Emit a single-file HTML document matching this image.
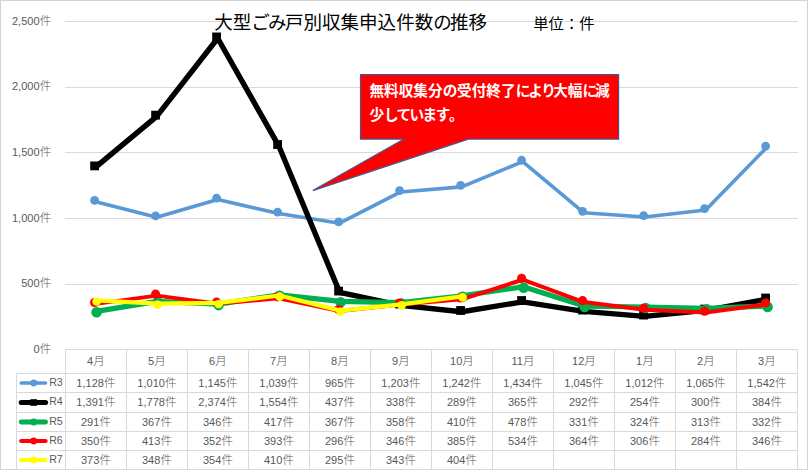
<!DOCTYPE html>
<html lang="ja"><head><meta charset="utf-8"><title>大型ごみ戸別収集申込件数の推移</title>
<style>html,body{margin:0;padding:0;background:#fff}svg{display:block}text{font-family:'Liberation Sans','Noto Sans CJK JP',sans-serif}.n{font-size:11px;letter-spacing:0.05px}.k{font-size:11.5px;letter-spacing:0;font-weight:300}.lb{fill:#595959}</style></head><body>
<svg width="808" height="474" viewBox="0 0 808 474">
<rect x="0" y="0" width="808" height="474" fill="#fff"/>
<rect x="0.5" y="0.5" width="807" height="469" fill="none" stroke="#d3d3d3" stroke-width="1"/>
<line x1="65" x2="798" y1="284.50" y2="284.50" stroke="#d9d9d9" stroke-width="1"/>
<line x1="65" x2="798" y1="218.50" y2="218.50" stroke="#d9d9d9" stroke-width="1"/>
<line x1="65" x2="798" y1="152.50" y2="152.50" stroke="#d9d9d9" stroke-width="1"/>
<line x1="65" x2="798" y1="87.50" y2="87.50" stroke="#d9d9d9" stroke-width="1"/>
<line x1="65" x2="798" y1="21.50" y2="21.50" stroke="#d9d9d9" stroke-width="1"/>
<g stroke="#d9d9d9" stroke-width="1" fill="none">
<line x1="65.50" x2="797.50" y1="349.50" y2="349.50"/>
<line x1="16.50" x2="797.50" y1="373.50" y2="373.50"/>
<line x1="16.50" x2="797.50" y1="392.50" y2="392.50"/>
<line x1="16.50" x2="797.50" y1="412.50" y2="412.50"/>
<line x1="16.50" x2="797.50" y1="431.50" y2="431.50"/>
<line x1="16.50" x2="797.50" y1="450.50" y2="450.50"/>
<line x1="16.50" x2="797.50" y1="469.50" y2="469.50"/>
<line x1="16.50" x2="16.50" y1="373.50" y2="469.50"/>
<line x1="65.50" x2="65.50" y1="349.50" y2="469.50"/>
<line x1="126.50" x2="126.50" y1="349.50" y2="469.50"/>
<line x1="187.50" x2="187.50" y1="349.50" y2="469.50"/>
<line x1="248.50" x2="248.50" y1="349.50" y2="469.50"/>
<line x1="309.50" x2="309.50" y1="349.50" y2="469.50"/>
<line x1="370.50" x2="370.50" y1="349.50" y2="469.50"/>
<line x1="431.50" x2="431.50" y1="349.50" y2="469.50"/>
<line x1="492.50" x2="492.50" y1="349.50" y2="469.50"/>
<line x1="553.50" x2="553.50" y1="349.50" y2="469.50"/>
<line x1="614.50" x2="614.50" y1="349.50" y2="469.50"/>
<line x1="675.50" x2="675.50" y1="349.50" y2="469.50"/>
<line x1="736.50" x2="736.50" y1="349.50" y2="469.50"/>
<line x1="797.50" x2="797.50" y1="349.50" y2="469.50"/>
</g>
<text class="lb" x="51.2" y="352.80" text-anchor="end"><tspan class="n">0</tspan><tspan class="k">件</tspan></text>
<text class="lb" x="51.2" y="287.20" text-anchor="end"><tspan class="n">500</tspan><tspan class="k">件</tspan></text>
<text class="lb" x="51.2" y="221.60" text-anchor="end"><tspan class="n">1,000</tspan><tspan class="k">件</tspan></text>
<text class="lb" x="51.2" y="156.00" text-anchor="end"><tspan class="n">1,500</tspan><tspan class="k">件</tspan></text>
<text class="lb" x="51.2" y="90.40" text-anchor="end"><tspan class="n">2,000</tspan><tspan class="k">件</tspan></text>
<text class="lb" x="51.2" y="24.80" text-anchor="end"><tspan class="n">2,500</tspan><tspan class="k">件</tspan></text>
<text class="lb" x="95.90" y="364.70" text-anchor="middle"><tspan class="n">4</tspan><tspan class="k">月</tspan></text>
<text class="lb" x="156.90" y="364.70" text-anchor="middle"><tspan class="n">5</tspan><tspan class="k">月</tspan></text>
<text class="lb" x="217.90" y="364.70" text-anchor="middle"><tspan class="n">6</tspan><tspan class="k">月</tspan></text>
<text class="lb" x="278.90" y="364.70" text-anchor="middle"><tspan class="n">7</tspan><tspan class="k">月</tspan></text>
<text class="lb" x="339.90" y="364.70" text-anchor="middle"><tspan class="n">8</tspan><tspan class="k">月</tspan></text>
<text class="lb" x="400.90" y="364.70" text-anchor="middle"><tspan class="n">9</tspan><tspan class="k">月</tspan></text>
<text class="lb" x="461.90" y="364.70" text-anchor="middle"><tspan class="n">10</tspan><tspan class="k">月</tspan></text>
<text class="lb" x="522.90" y="364.70" text-anchor="middle"><tspan class="n">11</tspan><tspan class="k">月</tspan></text>
<text class="lb" x="583.90" y="364.70" text-anchor="middle"><tspan class="n">12</tspan><tspan class="k">月</tspan></text>
<text class="lb" x="644.90" y="364.70" text-anchor="middle"><tspan class="n">1</tspan><tspan class="k">月</tspan></text>
<text class="lb" x="705.90" y="364.70" text-anchor="middle"><tspan class="n">2</tspan><tspan class="k">月</tspan></text>
<text class="lb" x="766.90" y="364.70" text-anchor="middle"><tspan class="n">3</tspan><tspan class="k">月</tspan></text>
<text class="lb" x="95.90" y="386.90" text-anchor="middle"><tspan class="n">1,128</tspan><tspan class="k">件</tspan></text>
<text class="lb" x="156.90" y="386.90" text-anchor="middle"><tspan class="n">1,010</tspan><tspan class="k">件</tspan></text>
<text class="lb" x="217.90" y="386.90" text-anchor="middle"><tspan class="n">1,145</tspan><tspan class="k">件</tspan></text>
<text class="lb" x="278.90" y="386.90" text-anchor="middle"><tspan class="n">1,039</tspan><tspan class="k">件</tspan></text>
<text class="lb" x="339.90" y="386.90" text-anchor="middle"><tspan class="n">965</tspan><tspan class="k">件</tspan></text>
<text class="lb" x="400.90" y="386.90" text-anchor="middle"><tspan class="n">1,203</tspan><tspan class="k">件</tspan></text>
<text class="lb" x="461.90" y="386.90" text-anchor="middle"><tspan class="n">1,242</tspan><tspan class="k">件</tspan></text>
<text class="lb" x="522.90" y="386.90" text-anchor="middle"><tspan class="n">1,434</tspan><tspan class="k">件</tspan></text>
<text class="lb" x="583.90" y="386.90" text-anchor="middle"><tspan class="n">1,045</tspan><tspan class="k">件</tspan></text>
<text class="lb" x="644.90" y="386.90" text-anchor="middle"><tspan class="n">1,012</tspan><tspan class="k">件</tspan></text>
<text class="lb" x="705.90" y="386.90" text-anchor="middle"><tspan class="n">1,065</tspan><tspan class="k">件</tspan></text>
<text class="lb" x="766.90" y="386.90" text-anchor="middle"><tspan class="n">1,542</tspan><tspan class="k">件</tspan></text>
<line x1="21.2" x2="45.6" y1="383.00" y2="383.00" stroke="#5999d5" stroke-width="3.4" stroke-linecap="round"/>
<circle cx="33.7" cy="383.00" r="3.4" fill="#5999d5"/>
<text class="lb" x="49.3" y="385.70"><tspan class="n" style="font-size:10.6px;letter-spacing:-0.3px">R3</tspan></text>
<text class="lb" x="95.90" y="406.40" text-anchor="middle"><tspan class="n">1,391</tspan><tspan class="k">件</tspan></text>
<text class="lb" x="156.90" y="406.40" text-anchor="middle"><tspan class="n">1,778</tspan><tspan class="k">件</tspan></text>
<text class="lb" x="217.90" y="406.40" text-anchor="middle"><tspan class="n">2,374</tspan><tspan class="k">件</tspan></text>
<text class="lb" x="278.90" y="406.40" text-anchor="middle"><tspan class="n">1,554</tspan><tspan class="k">件</tspan></text>
<text class="lb" x="339.90" y="406.40" text-anchor="middle"><tspan class="n">437</tspan><tspan class="k">件</tspan></text>
<text class="lb" x="400.90" y="406.40" text-anchor="middle"><tspan class="n">338</tspan><tspan class="k">件</tspan></text>
<text class="lb" x="461.90" y="406.40" text-anchor="middle"><tspan class="n">289</tspan><tspan class="k">件</tspan></text>
<text class="lb" x="522.90" y="406.40" text-anchor="middle"><tspan class="n">365</tspan><tspan class="k">件</tspan></text>
<text class="lb" x="583.90" y="406.40" text-anchor="middle"><tspan class="n">292</tspan><tspan class="k">件</tspan></text>
<text class="lb" x="644.90" y="406.40" text-anchor="middle"><tspan class="n">254</tspan><tspan class="k">件</tspan></text>
<text class="lb" x="705.90" y="406.40" text-anchor="middle"><tspan class="n">300</tspan><tspan class="k">件</tspan></text>
<text class="lb" x="766.90" y="406.40" text-anchor="middle"><tspan class="n">384</tspan><tspan class="k">件</tspan></text>
<line x1="21.2" x2="45.6" y1="402.50" y2="402.50" stroke="#000000" stroke-width="5.0" stroke-linecap="round"/>
<rect x="30.4" y="399.20" width="6.6" height="6.6" fill="#000000"/>
<text class="lb" x="49.3" y="405.20"><tspan class="n" style="font-size:10.6px;letter-spacing:-0.3px">R4</tspan></text>
<text class="lb" x="95.90" y="425.90" text-anchor="middle"><tspan class="n">291</tspan><tspan class="k">件</tspan></text>
<text class="lb" x="156.90" y="425.90" text-anchor="middle"><tspan class="n">367</tspan><tspan class="k">件</tspan></text>
<text class="lb" x="217.90" y="425.90" text-anchor="middle"><tspan class="n">346</tspan><tspan class="k">件</tspan></text>
<text class="lb" x="278.90" y="425.90" text-anchor="middle"><tspan class="n">417</tspan><tspan class="k">件</tspan></text>
<text class="lb" x="339.90" y="425.90" text-anchor="middle"><tspan class="n">367</tspan><tspan class="k">件</tspan></text>
<text class="lb" x="400.90" y="425.90" text-anchor="middle"><tspan class="n">358</tspan><tspan class="k">件</tspan></text>
<text class="lb" x="461.90" y="425.90" text-anchor="middle"><tspan class="n">410</tspan><tspan class="k">件</tspan></text>
<text class="lb" x="522.90" y="425.90" text-anchor="middle"><tspan class="n">478</tspan><tspan class="k">件</tspan></text>
<text class="lb" x="583.90" y="425.90" text-anchor="middle"><tspan class="n">331</tspan><tspan class="k">件</tspan></text>
<text class="lb" x="644.90" y="425.90" text-anchor="middle"><tspan class="n">324</tspan><tspan class="k">件</tspan></text>
<text class="lb" x="705.90" y="425.90" text-anchor="middle"><tspan class="n">313</tspan><tspan class="k">件</tspan></text>
<text class="lb" x="766.90" y="425.90" text-anchor="middle"><tspan class="n">332</tspan><tspan class="k">件</tspan></text>
<line x1="21.2" x2="45.6" y1="422.00" y2="422.00" stroke="#00b050" stroke-width="4.8" stroke-linecap="round"/>
<circle cx="33.7" cy="422.00" r="3.4" fill="#00b050"/>
<text class="lb" x="49.3" y="424.70"><tspan class="n" style="font-size:10.6px;letter-spacing:-0.3px">R5</tspan></text>
<text class="lb" x="95.90" y="444.90" text-anchor="middle"><tspan class="n">350</tspan><tspan class="k">件</tspan></text>
<text class="lb" x="156.90" y="444.90" text-anchor="middle"><tspan class="n">413</tspan><tspan class="k">件</tspan></text>
<text class="lb" x="217.90" y="444.90" text-anchor="middle"><tspan class="n">352</tspan><tspan class="k">件</tspan></text>
<text class="lb" x="278.90" y="444.90" text-anchor="middle"><tspan class="n">393</tspan><tspan class="k">件</tspan></text>
<text class="lb" x="339.90" y="444.90" text-anchor="middle"><tspan class="n">296</tspan><tspan class="k">件</tspan></text>
<text class="lb" x="400.90" y="444.90" text-anchor="middle"><tspan class="n">346</tspan><tspan class="k">件</tspan></text>
<text class="lb" x="461.90" y="444.90" text-anchor="middle"><tspan class="n">385</tspan><tspan class="k">件</tspan></text>
<text class="lb" x="522.90" y="444.90" text-anchor="middle"><tspan class="n">534</tspan><tspan class="k">件</tspan></text>
<text class="lb" x="583.90" y="444.90" text-anchor="middle"><tspan class="n">364</tspan><tspan class="k">件</tspan></text>
<text class="lb" x="644.90" y="444.90" text-anchor="middle"><tspan class="n">306</tspan><tspan class="k">件</tspan></text>
<text class="lb" x="705.90" y="444.90" text-anchor="middle"><tspan class="n">284</tspan><tspan class="k">件</tspan></text>
<text class="lb" x="766.90" y="444.90" text-anchor="middle"><tspan class="n">346</tspan><tspan class="k">件</tspan></text>
<line x1="21.2" x2="45.6" y1="441.00" y2="441.00" stroke="#ff0000" stroke-width="4.2" stroke-linecap="round"/>
<circle cx="33.7" cy="441.00" r="3.4" fill="#ff0000"/>
<text class="lb" x="49.3" y="443.70"><tspan class="n" style="font-size:10.6px;letter-spacing:-0.3px">R6</tspan></text>
<text class="lb" x="95.90" y="463.90" text-anchor="middle"><tspan class="n">373</tspan><tspan class="k">件</tspan></text>
<text class="lb" x="156.90" y="463.90" text-anchor="middle"><tspan class="n">348</tspan><tspan class="k">件</tspan></text>
<text class="lb" x="217.90" y="463.90" text-anchor="middle"><tspan class="n">354</tspan><tspan class="k">件</tspan></text>
<text class="lb" x="278.90" y="463.90" text-anchor="middle"><tspan class="n">410</tspan><tspan class="k">件</tspan></text>
<text class="lb" x="339.90" y="463.90" text-anchor="middle"><tspan class="n">295</tspan><tspan class="k">件</tspan></text>
<text class="lb" x="400.90" y="463.90" text-anchor="middle"><tspan class="n">343</tspan><tspan class="k">件</tspan></text>
<text class="lb" x="461.90" y="463.90" text-anchor="middle"><tspan class="n">404</tspan><tspan class="k">件</tspan></text>
<line x1="21.2" x2="45.6" y1="460.00" y2="460.00" stroke="#ffff00" stroke-width="4.0" stroke-linecap="round"/>
<circle cx="33.7" cy="460.00" r="3.4" fill="#ffff00"/>
<text class="lb" x="49.3" y="462.70"><tspan class="n" style="font-size:10.6px;letter-spacing:-0.3px">R7</tspan></text>
<polyline fill="none" stroke="#5999d5" stroke-width="3.6" stroke-linejoin="round" stroke-linecap="round" points="95.70,201.81 156.70,217.29 217.70,199.58 278.70,213.48 339.70,223.19 400.70,191.97 461.70,186.85 522.70,161.66 583.70,212.70 644.70,217.03 705.70,210.07 766.70,147.49"/>
<circle cx="94.60" cy="200.41" r="4.40" fill="#5999d5"/>
<circle cx="155.60" cy="215.89" r="4.40" fill="#5999d5"/>
<circle cx="216.60" cy="198.18" r="4.40" fill="#5999d5"/>
<circle cx="277.60" cy="212.08" r="4.40" fill="#5999d5"/>
<circle cx="338.60" cy="221.79" r="4.40" fill="#5999d5"/>
<circle cx="399.60" cy="190.57" r="4.40" fill="#5999d5"/>
<circle cx="460.60" cy="185.45" r="4.40" fill="#5999d5"/>
<circle cx="521.60" cy="160.26" r="4.40" fill="#5999d5"/>
<circle cx="582.60" cy="211.30" r="4.40" fill="#5999d5"/>
<circle cx="643.60" cy="215.63" r="4.40" fill="#5999d5"/>
<circle cx="704.60" cy="208.67" r="4.40" fill="#5999d5"/>
<circle cx="765.60" cy="146.09" r="4.40" fill="#5999d5"/>
<polyline fill="none" stroke="#000000" stroke-width="5.4" stroke-linejoin="round" stroke-linecap="round" points="95.70,167.20 156.70,116.43 217.70,38.23 278.70,145.82 339.70,292.37 400.70,305.35 461.70,311.78 522.70,301.81 583.70,311.39 644.70,316.38 705.70,310.34 766.70,299.32"/>
<rect x="90.20" y="161.50" width="8.80" height="8.80" fill="#000000"/>
<rect x="151.20" y="110.73" width="8.80" height="8.80" fill="#000000"/>
<rect x="212.20" y="32.53" width="8.80" height="8.80" fill="#000000"/>
<rect x="273.20" y="140.12" width="8.80" height="8.80" fill="#000000"/>
<rect x="334.20" y="286.67" width="8.80" height="8.80" fill="#000000"/>
<rect x="395.20" y="299.65" width="8.80" height="8.80" fill="#000000"/>
<rect x="456.20" y="306.08" width="8.80" height="8.80" fill="#000000"/>
<rect x="517.20" y="296.11" width="8.80" height="8.80" fill="#000000"/>
<rect x="578.20" y="305.69" width="8.80" height="8.80" fill="#000000"/>
<rect x="639.20" y="310.68" width="8.80" height="8.80" fill="#000000"/>
<rect x="700.20" y="304.64" width="8.80" height="8.80" fill="#000000"/>
<rect x="761.20" y="293.62" width="8.80" height="8.80" fill="#000000"/>
<polyline fill="none" stroke="#00b050" stroke-width="5.2" stroke-linejoin="round" stroke-linecap="round" points="96.30,311.32 157.30,301.35 218.30,304.10 279.30,294.79 340.30,301.35 401.30,302.53 462.30,295.71 523.30,286.79 584.30,306.07 645.30,306.99 706.30,308.43 767.30,305.94"/>
<circle cx="96.60" cy="312.32" r="5.30" fill="#00b050"/>
<circle cx="157.60" cy="302.35" r="5.30" fill="#00b050"/>
<circle cx="218.60" cy="305.10" r="5.30" fill="#00b050"/>
<circle cx="279.60" cy="295.79" r="5.30" fill="#00b050"/>
<circle cx="340.60" cy="302.35" r="5.30" fill="#00b050"/>
<circle cx="401.60" cy="303.53" r="5.30" fill="#00b050"/>
<circle cx="462.60" cy="296.71" r="5.30" fill="#00b050"/>
<circle cx="523.60" cy="287.79" r="5.30" fill="#00b050"/>
<circle cx="584.60" cy="307.07" r="5.30" fill="#00b050"/>
<circle cx="645.60" cy="307.99" r="5.30" fill="#00b050"/>
<circle cx="706.60" cy="309.43" r="5.30" fill="#00b050"/>
<circle cx="767.60" cy="306.94" r="5.30" fill="#00b050"/>
<polyline fill="none" stroke="#ff0000" stroke-width="4.0" stroke-linejoin="round" stroke-linecap="round" points="95.70,303.88 156.70,295.61 217.70,303.62 278.70,298.24 339.70,310.96 400.70,304.40 461.70,299.29 522.70,279.74 583.70,302.04 644.70,309.65 705.70,312.54 766.70,304.40"/>
<circle cx="94.60" cy="302.48" r="4.60" fill="#ff0000"/>
<circle cx="155.60" cy="294.21" r="4.60" fill="#ff0000"/>
<circle cx="216.60" cy="302.22" r="4.60" fill="#ff0000"/>
<circle cx="277.60" cy="296.84" r="4.60" fill="#ff0000"/>
<circle cx="338.60" cy="309.56" r="4.60" fill="#ff0000"/>
<circle cx="399.60" cy="303.00" r="4.60" fill="#ff0000"/>
<circle cx="460.60" cy="297.89" r="4.60" fill="#ff0000"/>
<circle cx="521.60" cy="278.34" r="4.60" fill="#ff0000"/>
<circle cx="582.60" cy="300.64" r="4.60" fill="#ff0000"/>
<circle cx="643.60" cy="308.25" r="4.60" fill="#ff0000"/>
<circle cx="704.60" cy="311.14" r="4.60" fill="#ff0000"/>
<circle cx="765.60" cy="303.00" r="4.60" fill="#ff0000"/>
<polyline fill="none" stroke="#ffff00" stroke-width="4.2" stroke-linejoin="round" stroke-linecap="round" points="96.30,300.36 157.30,303.64 218.30,302.86 279.30,295.51 340.30,310.60 401.30,304.30 462.30,296.30"/>
<circle cx="96.60" cy="301.46" r="4.30" fill="#ffff00"/>
<circle cx="157.60" cy="304.74" r="4.30" fill="#ffff00"/>
<circle cx="218.60" cy="303.96" r="4.30" fill="#ffff00"/>
<circle cx="279.60" cy="296.61" r="4.30" fill="#ffff00"/>
<circle cx="340.60" cy="311.70" r="4.30" fill="#ffff00"/>
<circle cx="401.60" cy="305.40" r="4.30" fill="#ffff00"/>
<circle cx="462.60" cy="297.40" r="4.30" fill="#ffff00"/>
<rect x="221" y="8" width="266" height="26" fill="#fff" fill-opacity="0.8"/>
<text x="214.2" y="28.8" font-size="18.55" fill="#000">大型<tspan letter-spacing="-1.7">ごみ</tspan>戸別収集申込件数<tspan letter-spacing="-1.7">の</tspan>推移</text>
<text transform="translate(533.3,29.3) scale(1,0.93)" x="0" y="0" font-size="15.3" fill="#000">単位：件</text>
<path d="M360.5,74.7 H618.6 V139.1 H468.4 L312.8,190.6 L404,139.1 H360.5 Z" fill="#ff0000" stroke="#4a548c" stroke-width="1.2" stroke-linejoin="miter"/>
<text x="369.4" y="95.9" font-size="14.67" font-weight="bold" fill="#fff">無料収集分<tspan letter-spacing="-0.3">の</tspan>受付終了<tspan letter-spacing="-2.2">に</tspan><tspan letter-spacing="-1.7">よ</tspan><tspan letter-spacing="-2.6">り</tspan>大幅<tspan letter-spacing="-2.2">に</tspan>減</text>
<text x="369.4" y="120.3" font-size="14.67" font-weight="bold" fill="#fff">少<tspan letter-spacing="-2.2">し</tspan><tspan letter-spacing="-1.7">て</tspan><tspan letter-spacing="-1.7">い</tspan><tspan letter-spacing="-1.4">ま</tspan><tspan letter-spacing="-1.5">す</tspan>。</text>
</svg></body></html>
